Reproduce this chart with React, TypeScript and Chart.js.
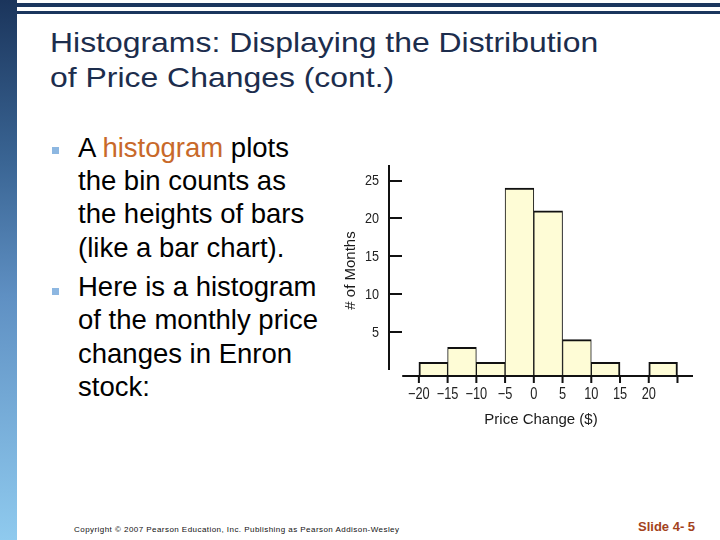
import React, { useEffect, useRef } from "react";
import { Chart, registerables } from "chart.js";

Chart.register(...registerables);

// ---- data ----
const BIN_STARTS = [-20, -15, -10, -5, 0, 5, 10, 15, 20];
const BIN_WIDTH = 5;
const COUNTS = [1, 3, 1, 24, 21, 4, 1, 0, 1];
const X_TICK_VALUES = [-20, -15, -10, -5, 0, 5, 10, 15, 20, 25];
const X_TICK_LABELS = ["\u221220", "\u221215", "\u221210", "\u22125", "0", "5", "10", "15", "20", ""];
const Y_TICK_VALUES = [5, 10, 15, 20, 25];
const Y_TICK_LABELS = ["5", "10", "15", "20", "25"];
const X_TITLE = "Price Change ($)";
const Y_TITLE = "# of Months";

const TITLE_LINES = ["Histograms: Displaying the Distribution", "of Price Changes (cont.)"];

const X_MIN = -25.2;
const X_MAX = 27.7;
const X_AXIS_START = -22.9;
const Y_MIN = -0.8;
const Y_MAX = 27.05;

const AXIS_FONT = "'Liberation Sans', Arial, sans-serif";

const axesPlugin = {
  id: "slideAxes",
  afterDatasetsDraw(chart: any) {
    const { ctx, chartArea, scales } = chart;
    const x = scales.x;
    const y = scales.y;
    ctx.save();
    ctx.strokeStyle = "#111";
    ctx.lineWidth = 2;
    ctx.lineCap = "butt";
    ctx.beginPath();
    const yx = chartArea.left;
    ctx.moveTo(yx, y.getPixelForValue(Y_MAX));
    ctx.lineTo(yx, y.getPixelForValue(0));
    Y_TICK_VALUES.forEach((v) => {
      const py = Math.round(y.getPixelForValue(v));
      ctx.moveTo(yx, py);
      ctx.lineTo(yx + 13, py);
    });
    const xy = chartArea.bottom;
    ctx.moveTo(x.getPixelForValue(X_AXIS_START), xy);
    ctx.lineTo(chartArea.right, xy);
    X_TICK_VALUES.forEach((v) => {
      const px = x.getPixelForValue(v);
      ctx.moveTo(px, xy);
      ctx.lineTo(px, xy + 7);
    });
    ctx.stroke();

    // condensed tick labels
    ctx.fillStyle = "#222";
    ctx.textBaseline = "middle";
    ctx.font = `16px ${AXIS_FONT}`;
    ctx.textAlign = "center";
    X_TICK_VALUES.forEach((v, i) => {
      const px = x.getPixelForValue(v);
      ctx.save();
      ctx.translate(px, xy + 19);
      ctx.scale(0.8, 1);
      ctx.fillText(X_TICK_LABELS[i], 0, 0);
      ctx.restore();
    });
    ctx.font = `14px ${AXIS_FONT}`;
    ctx.textAlign = "right";
    Y_TICK_VALUES.forEach((v, i) => {
      const py = y.getPixelForValue(v);
      ctx.save();
      ctx.translate(yx - 10, py + 1);
      ctx.scale(0.9, 1);
      ctx.fillText(Y_TICK_LABELS[i], 0, 0);
      ctx.restore();
    });
    ctx.restore();
  },
};

function Histogram() {
  const ref = useRef<HTMLCanvasElement | null>(null);
  useEffect(() => {
    if (!ref.current) return;
    const data = BIN_STARTS.map((s, i) => ({
      x: s + BIN_WIDTH / 2,
      y: COUNTS[i] > 0 ? COUNTS[i] : null,
    }));
    const chart = new Chart(ref.current, {
      type: "bar",
      data: {
        datasets: [
          {
            data: data as any,
            backgroundColor: "#fefcd6",
            borderColor: "#111",
            borderWidth: (c: any) => {
              const i = c.dataIndex;
              const prev = i > 0 ? COUNTS[i - 1] : 0;
              const next = i < COUNTS.length - 1 ? COUNTS[i + 1] : 0;
              return { top: 2, left: prev > 0 ? 1 : 2, right: next > 0 ? 1 : 2, bottom: 0 };
            },
            borderSkipped: false,
            base: Y_MIN,
            barPercentage: 1,
            categoryPercentage: 1,
            grouped: false,
          } as any,
        ],
      },
      options: {
        animation: false,
        responsive: false,
        events: [],
        layout: { padding: { top: 15, right: 17, left: 0, bottom: 0 } },
        plugins: { legend: { display: false }, tooltip: { enabled: false } },
        scales: {
          x: {
            type: "linear",
            offset: false,
            min: X_MIN,
            max: X_MAX,
            grid: { display: false, drawTicks: false },
            border: { display: false },
            afterBuildTicks: (scale: any) => {
              scale.ticks = X_TICK_VALUES.map((v) => ({ value: v }));
            },
            afterFit: (scale: any) => {
              scale.height = 64;
            },
            ticks: { display: false },
            title: {
              display: true,
              text: X_TITLE,
              color: "#1a1a1a",
              font: { family: AXIS_FONT, size: 15 },
              padding: { top: 0, bottom: 11 },
            },
          },
          y: {
            type: "linear",
            min: Y_MIN,
            max: Y_MAX,
            grid: { display: false, drawTicks: false },
            border: { display: false },
            afterBuildTicks: (scale: any) => {
              scale.ticks = Y_TICK_VALUES.map((v) => ({ value: v }));
            },
            afterFit: (scale: any) => {
              scale.width = 59;
            },
            ticks: { display: false },
            title: {
              display: true,
              text: Y_TITLE,
              color: "#1a1a1a",
              font: { family: AXIS_FONT, size: 15 },
              padding: { top: 12, bottom: 0 },
            },
          },
        },
      } as any,
      plugins: [axesPlugin],
    });
    return () => chart.destroy();
  }, []);
  return (
    <canvas
      ref={ref}
      width={380}
      height={290}
      style={{ position: "absolute", left: 330, top: 150, width: 380, height: 290 }}
    />
  );
}

const bulletStyle: React.CSSProperties = {
  position: "absolute",
  left: 52,
  width: 7,
  height: 7,
  background: "#8db7e1",
};

const paraStyle: React.CSSProperties = {
  position: "absolute",
  left: 78,
  fontFamily: "'Liberation Sans', Arial, sans-serif",
  fontSize: 27.5,
  lineHeight: "33.4px",
  color: "#000",
  whiteSpace: "nowrap",
};

export default function App() {
  return (
    <div
      style={{
        position: "absolute",
        left: 0,
        top: 0,
        width: 720,
        height: 540,
        background: "#fff",
        overflow: "hidden",
      }}
    >
      <div
        style={{
          position: "absolute",
          left: 0,
          top: 0,
          width: 17,
          height: 540,
          background: "linear-gradient(to bottom, #1b355c 0%, #3a6594 30%, #5f90c3 55%, #8fcaee 100%)",
        }}
      />
      <div style={{ position: "absolute", left: 17, top: 3, width: 703, height: 4, background: "#1b365e" }} />
      <div style={{ position: "absolute", left: 17, top: 11, width: 703, height: 3, background: "#1b365e" }} />

      <div
        style={{
          position: "absolute",
          left: 50,
          top: 25,
          fontFamily: "'Liberation Sans', Arial, sans-serif",
          fontSize: 28,
          lineHeight: "35px",
          color: "#1c2d4d",
          whiteSpace: "nowrap",
          transform: "scaleX(1.14)",
          transformOrigin: "0 0",
        }}
      >
        {TITLE_LINES[0]}
        <br />
        {TITLE_LINES[1]}
      </div>

      <div style={{ ...bulletStyle, top: 147 }} />
      <div style={{ ...paraStyle, top: 130.5 }}>
        A <span style={{ color: "#c8692a" }}>histogram</span> plots
        <br />
        the bin counts as
        <br />
        the heights of bars
        <br />
        (like a bar chart).
      </div>

      <div style={{ ...bulletStyle, top: 288 }} />
      <div style={{ ...paraStyle, top: 269.8 }}>
        Here is a histogram
        <br />
        of the monthly price
        <br />
        changes in Enron
        <br />
        stock:
      </div>

      <Histogram />

      <div
        style={{
          position: "absolute",
          left: 74,
          top: 525,
          fontFamily: "'Liberation Sans', Arial, sans-serif",
          fontSize: 8,
          lineHeight: "10px",
          letterSpacing: "0.45px",
          color: "#111",
          whiteSpace: "nowrap",
        }}
      >
        Copyright © 2007 Pearson Education, Inc. Publishing as Pearson Addison-Wesley
      </div>
      <div
        style={{
          position: "absolute",
          left: 638,
          top: 519,
          fontFamily: "'Liberation Sans', Arial, sans-serif",
          fontSize: 13,
          fontWeight: "bold",
          lineHeight: "16px",
          color: "#a3421c",
          whiteSpace: "nowrap",
        }}
      >
        Slide 4- 5
      </div>
    </div>
  );
}
